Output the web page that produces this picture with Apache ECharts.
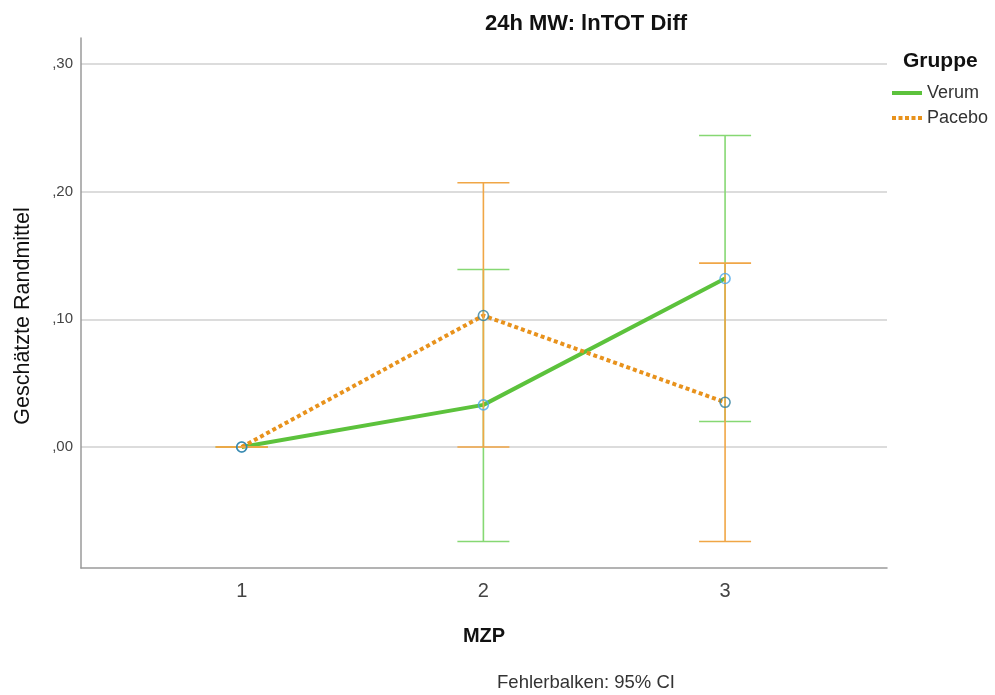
<!DOCTYPE html>
<html>
<head>
<meta charset="utf-8">
<title>24h MW: lnTOT Diff</title>
<script src="https://cdn.jsdelivr.net/npm/echarts@6/dist/echarts.min.js"></script>
<style>
  html, body { margin: 0; padding: 0; background: #fff; }
  #chart { width: 995px; height: 695px; }
</style>
</head>
<body>
<div id="chart"></div>
<script>
// Messzeitpunkte (MZP)
const timepoints = [1, 2, 3];
const tickValuesY = [0, 0.1, 0.2, 0.3];

// Geschätzte Randmittel je Gruppe
const verumMeans = [0.0, 0.033, 0.132];
const pacebosMeans = [0.0, 0.103, 0.035];

// 95%-Konfidenzintervalle: [untere, obere Grenze]
const verumCI = [[0.0, 0.0], [-0.074, 0.139], [0.020, 0.244]];
const pacebosCI = [[0.0, 0.0], [0.0, 0.207], [-0.074, 0.144]];

const FONT = '"Liberation Sans", Arial, sans-serif';
const GREEN = '#5cc23c';
const GREEN_BAR = '#86d873';
const ORANGE = '#e8921c';
const ORANGE_BAR = '#f0a646';

// Legend icons: a solid bar and a row of five square dots
const SOLID_ICON = 'path://M0,0h30v4h-30z';
const DOTTED_ICON = 'path://M0,0h4v4h-4z M6.5,0h4v4h-4z M13,0h4v4h-4z M19.5,0h4v4h-4z M26,0h4v4h-4z';

function pairs(xs, ys) { return xs.map((x, i) => [x, ys[i]]); }
function ciRows(xs, ci) { return xs.map((x, i) => [x, ci[i][0], ci[i][1]]); }

function errorBarRenderer(color) {
  return function (params, api) {
    const x = api.value(0);
    const lo = api.coord([x, api.value(1)]);
    const hi = api.coord([x, api.value(2)]);
    const half = 26;
    const style = { stroke: color, lineWidth: 1.6, fill: null };
    return {
      type: 'group',
      children: [
        { type: 'line', shape: { x1: hi[0], y1: hi[1], x2: lo[0], y2: lo[1] }, style: style },
        { type: 'line', shape: { x1: hi[0] - half, y1: hi[1], x2: hi[0] + half, y2: hi[1] }, style: style },
        { type: 'line', shape: { x1: lo[0] - half, y1: lo[1], x2: lo[0] + half, y2: lo[1] }, style: style }
      ]
    };
  };
}

const chart = echarts.init(document.getElementById('chart'), null, { renderer: 'canvas' });

chart.setOption({
  animation: false,
  backgroundColor: '#ffffff',
  textStyle: { fontFamily: FONT },
  title: [
    {
      text: '24h MW: lnTOT Diff',
      left: 586, top: 13, textAlign: 'center', padding: 0,
      textStyle: { fontFamily: FONT, fontSize: 22, fontWeight: 'bold', color: '#111' }
    },
    {
      text: 'Gruppe',
      left: 903, top: 51, padding: 0,
      textStyle: { fontFamily: FONT, fontSize: 21, fontWeight: 'bold', color: '#111' }
    },
    {
      text: 'Fehlerbalken: 95% CI',
      left: 586, top: 673, textAlign: 'center', padding: 0,
      textStyle: { fontFamily: FONT, fontSize: 18.5, fontWeight: 'normal', color: '#333' }
    }
  ],
  legend: {
    orient: 'vertical',
    left: 887, top: 79,
    itemWidth: 30, itemHeight: 4, itemGap: 7,
    textStyle: { fontFamily: FONT, fontSize: 18, color: '#333' },
    data: [
      { name: 'Verum', icon: SOLID_ICON },
      { name: 'Pacebo', icon: DOTTED_ICON }
    ]
  },
  grid: { left: 81, right: 108, top: 38, bottom: 127, outerBoundsMode: 'none', containLabel: false },
  xAxis: {
    type: 'value',
    min: 0.335, max: 3.67,
    name: 'MZP', nameLocation: 'middle', nameGap: 58,
    nameTextStyle: { fontFamily: FONT, fontSize: 20, fontWeight: 'bold', color: '#111' },
    axisLine: { show: true, onZero: false, lineStyle: { color: '#9a9a9a', width: 1.5 } },
    axisTick: { show: false, customValues: timepoints },
    axisLabel: {
      customValues: timepoints, margin: 13,
      fontFamily: FONT, fontSize: 20, color: '#444',
      formatter: v => String(Math.round(v))
    },
    splitLine: { show: false }
  },
  yAxis: {
    type: 'value',
    min: -0.0948, max: 0.3204,
    name: 'Geschätzte Randmittel', nameLocation: 'middle', nameGap: 47,
    nameTextStyle: { fontFamily: FONT, fontSize: 21.5, color: '#111', padding: [0, 26, 0, 0] },
    axisLine: { show: true, onZero: false, lineStyle: { color: '#9a9a9a', width: 1.5 } },
    axisTick: { show: false, customValues: tickValuesY },
    axisLabel: {
      customValues: tickValuesY, margin: 8,
      fontFamily: FONT, fontSize: 15, color: '#444',
      formatter: v => ',' + Math.round(Math.abs(v) * 100).toString().padStart(2, '0')
    },
    splitLine: { show: true, lineStyle: { color: '#d0d0d0', width: 1.5 } }
  },
  series: [
    {
      name: 'Verum', type: 'line', symbol: 'none', z: 3,
      data: pairs(timepoints, verumMeans),
      lineStyle: { color: GREEN, width: 4 },
      itemStyle: { color: GREEN }
    },
    {
      name: 'Pacebo', type: 'line', symbol: 'none', z: 3,
      data: pairs(timepoints, pacebosMeans),
      lineStyle: { color: ORANGE, width: 4, type: [4, 3] },
      itemStyle: { color: ORANGE }
    },
    {
      name: 'Verum CI', type: 'custom', z: 2,
      renderItem: errorBarRenderer(GREEN_BAR),
      data: ciRows(timepoints, verumCI),
      encode: { x: 0, y: [1, 2] }
    },
    {
      name: 'Pacebo CI', type: 'custom', z: 4,
      renderItem: errorBarRenderer(ORANGE_BAR),
      data: ciRows(timepoints, pacebosCI),
      encode: { x: 0, y: [1, 2] }
    },
    {
      name: 'Verum Mittel', type: 'scatter', z: 5,
      symbol: 'circle', symbolSize: 10,
      data: pairs(timepoints, verumMeans),
      itemStyle: { color: 'rgba(255,255,255,0)', borderColor: '#4aa8e8', borderWidth: 1.6 }
    },
    {
      name: 'Pacebo Mittel', type: 'scatter', z: 5,
      symbol: 'circle', symbolSize: 10,
      data: pairs(timepoints, pacebosMeans),
      itemStyle: { color: 'rgba(255,255,255,0)', borderColor: '#2f7e9c', borderWidth: 1.6 }
    }
  ]
});
</script>
</body>
</html>
